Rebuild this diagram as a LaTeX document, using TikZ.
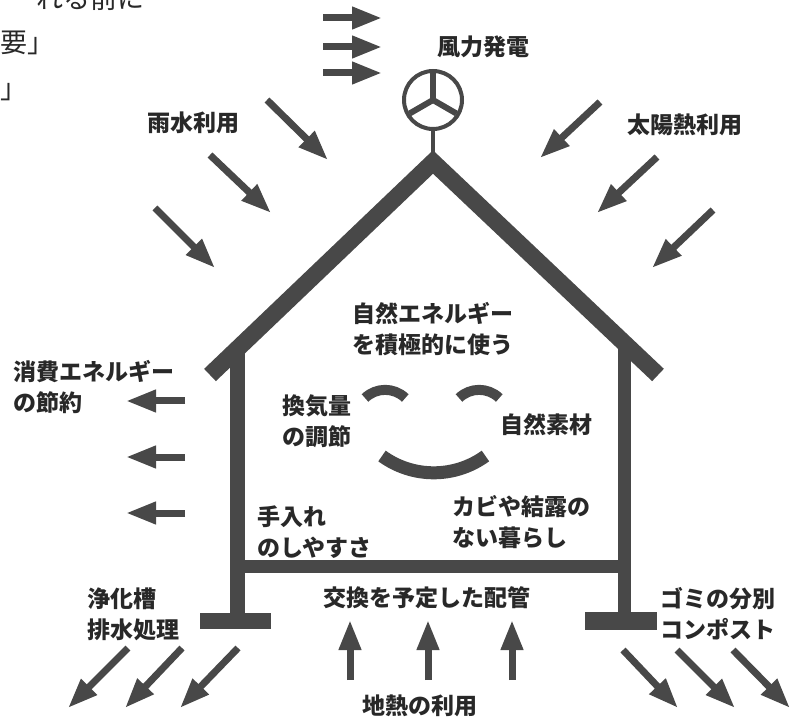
\documentclass[tikz,border=0pt]{standalone}
\usepackage{fontspec}
\newfontfamily\lblfont{Noto Sans CJK JP}
\newfontfamily\pagefont{Noto Sans CJK JP}
\usetikzlibrary{arrows.meta}
\definecolor{ink}{RGB}{72,72,72}
\definecolor{txt}{RGB}{40,40,40}

\begin{document}
\begin{tikzpicture}[x=1pt, y=-1pt,
		lbl/.style={font=\lblfont\bfseries\fontsize{23}{31}\selectfont, text=txt, inner sep=0pt, align=left},
		frag/.style={font=\pagefont\fontsize{27}{33}\selectfont, text=txt, inner sep=0pt},
		bigarrow/.style={draw=ink, line width=7pt, -{Triangle[length=30pt,width=21pt]}},
		beam/.style={fill=ink}
		]
		\clip (0,0) rectangle (793,719);
		
		% 前ページの文字
		\node[frag, anchor=east] (pg1) at (145,-2) {れる前に};
		\node[frag, anchor=west] (pg2) at (0,43) {要」};
		\node[frag, anchor=west] (pg3) at (0,92) {」};
		
		% 屋根
		\draw[ink, line width=17pt, line join=miter] (210,375) -- (433,162) -- (658,375);
		% 壁・床・土台
		\fill[beam] (230,345) rectangle (245,614);
		\fill[beam] (618,345) rectangle (631,614);
		\fill[beam] (237,560) rectangle (624,573);
		\fill[beam] (200,613) rectangle (271,629);
		\fill[beam] (585,612) rectangle (657,630);
		
		% 風車
		\coordinate (hub) at (433,100);
		\draw[ink, line width=4pt] (hub) circle (29);
		\foreach \a in {90,210,330}
		\draw[ink, line width=6pt] (hub) -- ++(\a:-27);
		\draw[ink, line width=4pt] (433,129) -- (433,152);
		
		% 顔
		\draw[ink, line width=10pt] (365,398) arc[start angle=-134, end angle=-46, radius=29];
		\draw[ink, line width=10pt] (459,398) arc[start angle=-134, end angle=-46, radius=29];
		\draw[ink, line width=13pt] (382,456) arc[start angle=126, end angle=54, radius=88];
		
		% 矢印
		\foreach \xa/\ya/\xb/\yb in {323/18/382/18, 323/47/382/47, 323/73/382/73,
			267/100/328/160, 210/155/271/213, 155/208/215/268,
			600/102/540/158, 657/157/597/213, 713/210/652/268,
			185/401/126/401, 185/457/126/457, 185/513/126/513,
			128/648/68/708, 182/648/125/708, 238/648/180/708,
			623/650/678/708, 677/650/735/708, 733/650/790/708,
			350/680/350/620, 428/680/428/620, 512/680/512/620}
		\draw[bigarrow] (\xa,\ya) -- (\xb,\yb);
		
		% ラベル
		\node[lbl] (wind) at (483,47) {風力発電};
		\node[lbl] (rain) at (193,123) {雨水利用};
		\node[lbl] (sun) at (685,125) {太陽熱利用};
		\node[lbl, align=center] (natural) at (433,329) {自然エネルギー\\を積極的に使う};
		\node[lbl, anchor=west] (saving) at (13,387) {消費エネルギー\\の節約};
		\node[lbl, anchor=west] (vent) at (282,421) {換気量\\の調節};
		\node[lbl, anchor=west] (material) at (500,425) {自然素材};
		\node[lbl, anchor=west] (care) at (257,532) {手入れ\\のしやすさ};
		\node[lbl, anchor=west] (mold) at (452,522) {カビや結露の\\ない暮らし};
		\node[lbl] (pipe) at (427,598) {交換を予定した配管};
		\node[lbl, anchor=west] (septic) at (87,614) {浄化槽\\排水処理};
		\node[lbl, anchor=west] (waste) at (660,614) {ゴミの分別\\コンポスト};
		\node[lbl] (geo) at (420,706) {地熱の利用};
\end{tikzpicture}
\end{document}
